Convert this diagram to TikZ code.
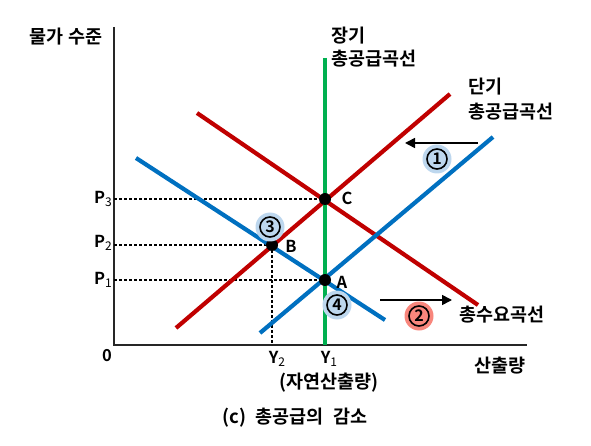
\documentclass[tikz,border=0pt]{standalone}
\usepackage{fontspec}
\setmainfont{Noto Sans CJK KR}[BoldFont={Noto Sans CJK KR Bold}]
\usetikzlibrary{arrows.meta}
\definecolor{asred}{HTML}{C00000}
\definecolor{asblue}{HTML}{0070C0}
\definecolor{lrgreen}{HTML}{00B050}
\definecolor{numblue}{HTML}{BDD7EE}
\definecolor{numred}{HTML}{F8867C}
\definecolor{axisgray}{HTML}{262626}
\newcommand{\sbs}[1]{\raisebox{-0.35ex}{\fontsize{12}{12}\selectfont\mdseries #1}}
\tikzset{
  lbl/.style={font=\fontsize{18.5}{22}\selectfont\bfseries, inner sep=0pt},
  lat/.style={font=\fontsize{16.5}{20}\selectfont\bfseries, inner sep=0pt},
  curve/.style={line width=4.2pt},
  dot/.style={circle, fill=black, minimum size=12pt, inner sep=0pt},
  guide/.style={line width=1.1pt, dash pattern=on 3pt off 2pt},
  shiftarrow/.style={line width=1.6pt, -{Triangle[length=10pt,width=10pt]}},
  numbg/.style={circle, minimum size=29pt, inner sep=0pt},
  numring/.style={circle, draw=black, line width=1.6pt, minimum size=20pt, inner sep=0pt, font=\fontsize{16}{16}\selectfont\bfseries},
}
\begin{document}
\begin{tikzpicture}[x=1pt,y=-1pt]
\useasboundingbox (0,0) rectangle (591,446);
% axes
\coordinate (ytop) at (114,27);
\coordinate (org) at (114,345);
\coordinate (xend) at (527,345);
\draw[line width=1.8pt, axisgray] (ytop) -- (org) -- (xend);
% points
\coordinate (Cp) at (325,199);
\coordinate (Bp) at (272,245);
\coordinate (Ap) at (325,280);
\coordinate (p3) at (114,199);
\coordinate (p2) at (114,245);
\coordinate (p1) at (114,280);
\coordinate (y2) at (272,345);
% guides
\draw[guide] (p3) -- (Cp);
\draw[guide] (p2) -- (Bp);
\draw[guide] (p1) -- (Ap);
\draw[guide] (Bp) -- (y2);
% curves
\coordinate (lrtop) at (325,58);
\coordinate (lrbot) at (325,345);
\coordinate (as2a) at (176,328);
\coordinate (as2b) at (450,94);
\coordinate (as1a) at (260,333);
\coordinate (as1b) at (493,137);
\coordinate (ad1a) at (197,113);
\coordinate (ad1b) at (478,305);
\coordinate (ad2a) at (136,158);
\coordinate (ad2b) at (385,320);
\draw[curve, asblue] (ad2a) -- (ad2b);
\draw[curve, asred] (ad1a) -- (ad1b);
\draw[curve, asblue] (as1a) -- (as1b);
\draw[curve, asred] (as2a) -- (as2b);
\draw[curve, lrgreen] (lrtop) -- (lrbot);
% dots
\node[dot] (C) at (Cp) {};
\node[dot] (B) at (Bp) {};
\node[dot] (A) at (Ap) {};
\node[lat] at (347,198) {C};
\node[lat] at (291,246) {B};
\node[lat] at (342,282) {A};
% shift arrows
\coordinate (a1s) at (478,143);
\coordinate (a1e) at (405,143);
\coordinate (a2s) at (380,300);
\coordinate (a2e) at (452,300);
\draw[shiftarrow] (a1s) -- (a1e);
\draw[shiftarrow] (a2s) -- (a2e);
% numbers
\node[numbg, fill=numblue] (n1) at (437,159) {};
\node[numring] at (n1) {1};
\node[numbg, fill=numred] (n2) at (419,316) {};
\node[numring] at (n2) {2};
\node[numbg, fill=numblue] (n3) at (270,227) {};
\node[numring] at (n3) {3};
\node[numbg, fill=numblue] (n4) at (337,305) {};
\node[numring] at (n4) {4};
% axis labels
\node[lbl] at (66,37) {물가 수준};
\node[lbl] at (500,366) {산출량};
\node[lat] at (107,356) {0};
\node[lat, anchor=east] at (112,199) {P\sbs{3}};
\node[lat, anchor=east] at (112,243) {P\sbs{2}};
\node[lat, anchor=east] at (112,280) {P\sbs{1}};
\node[lat] at (277,359) {Y\sbs{2}};
\node[lat] at (329,359) {Y\sbs{1}};
\node[lbl] at (329,383) {(자연산출량)};
\node[lbl, anchor=west] at (331,36) {장기};
\node[lbl, anchor=west] at (331,59) {총공급곡선};
\node[lbl, anchor=west] at (468,87) {단기};
\node[lbl, anchor=west] at (468,112) {총공급곡선};
\node[lbl, anchor=west] at (459,315) {총수요곡선};
\node[lbl] at (295,418) {(c)\hspace{0.5em}총공급의\hspace{0.3em} 감소};
\end{tikzpicture}
\end{document}
